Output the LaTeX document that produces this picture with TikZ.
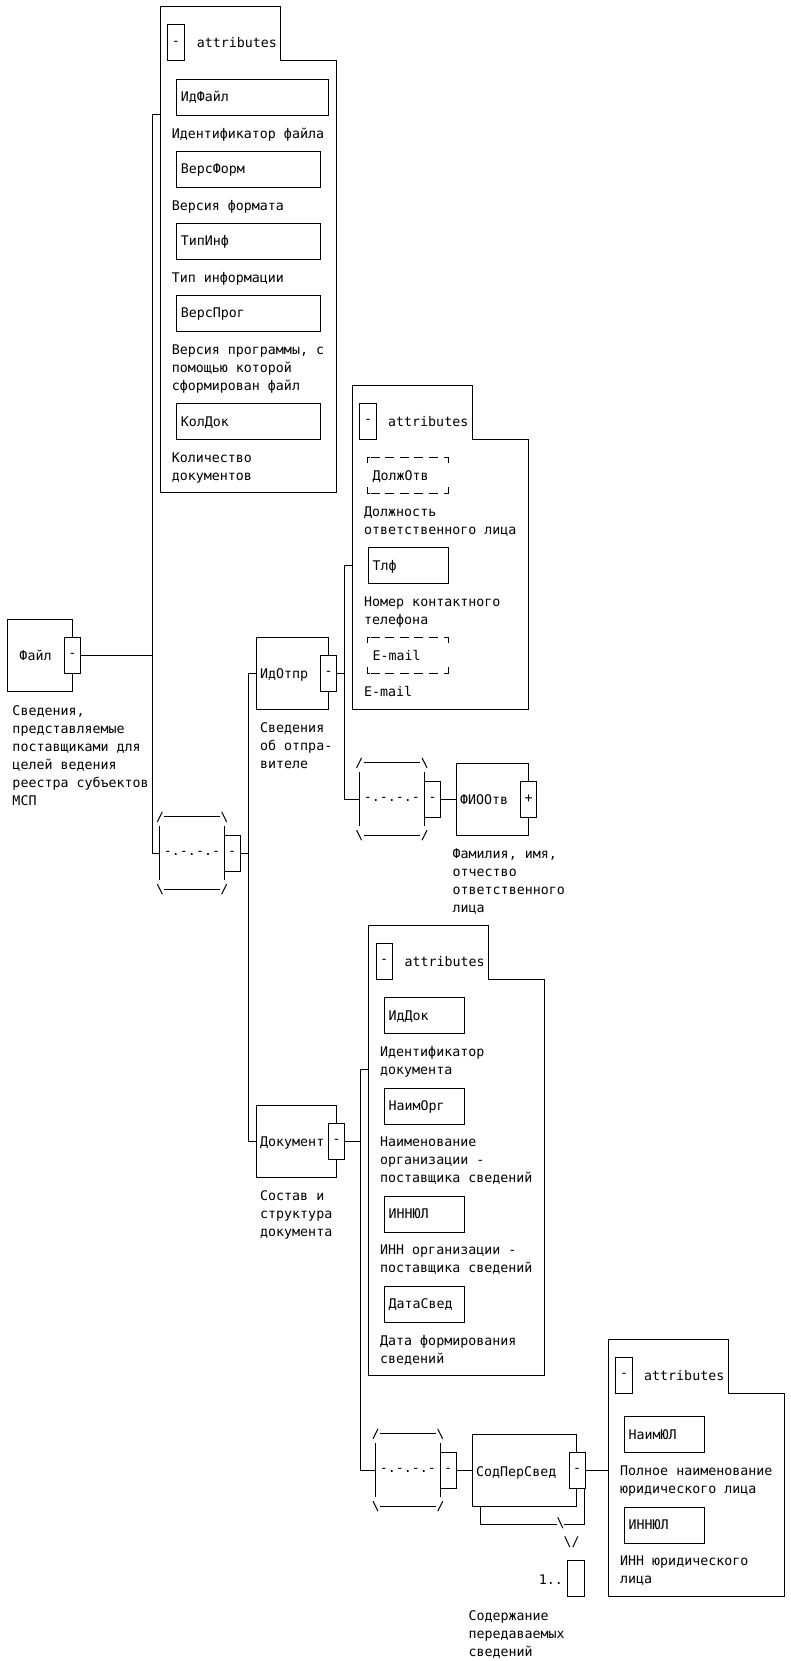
\documentclass[tikz,border=0pt]{standalone}
\usepackage{fontspec}
\newfontfamily\mono{DejaVu Sans Mono}
\newcommand\st{\rule{0pt}{13pt}}
\tikzset{
  every node/.style={font=\mono\fontsize{13.3}{18}\selectfont, text=black},
  ln/.style={line width=1pt, black},
  elbox/.style={draw, line width=1pt, minimum height=72pt, inner sep=0pt},
  sq/.style={draw, fill=white, line width=1pt, minimum width=16pt, minimum height=36pt, inner sep=0pt},
  nm/.style={anchor=base west, inner sep=0pt},
  desc/.style={anchor=north west, inner sep=0pt, align=left},
  attbox/.style={draw, line width=1pt, minimum height=36pt, inner sep=0pt, anchor=north west},
  dbox/.style={minimum height=36pt, minimum width=80.6pt, inner sep=0pt, anchor=north west},
  comp/.style={minimum height=72pt, inner sep=0pt},
}
\newcommand\compo[1]{%
  \draw[ln] ([yshift=9.5pt]#1.south west) -- ([yshift=-9.5pt]#1.north west);
  \draw[ln] ([yshift=9.5pt]#1.south east) -- ([yshift=-9.5pt]#1.north east);
  \draw[ln] ([xshift=4.5pt]#1.north west) -- ([xshift=-4.5pt]#1.north east);
  \draw[ln] ([xshift=4.5pt]#1.south west) -- ([xshift=-4.5pt]#1.south east);
  \draw[ln] ([shift={(-2.5pt,-5pt)}]#1.north west) -- ([shift={(2.5pt,5pt)}]#1.north west);
  \draw[ln] ([shift={(-2.5pt,5pt)}]#1.north east) -- ([shift={(2.5pt,-5pt)}]#1.north east);
  \draw[ln] ([shift={(-2.5pt,5pt)}]#1.south west) -- ([shift={(2.5pt,-5pt)}]#1.south west);
  \draw[ln] ([shift={(-2.5pt,-5pt)}]#1.south east) -- ([shift={(2.5pt,5pt)}]#1.south east);
  \node (#1sym) at (#1.center) {-.-.-.-};
  \node[sq] (#1sq) at ([xshift=8pt]#1.east) {-};
}
\newcommand\dashedbox[1]{%
  \draw[ln] ([yshift=-6pt]#1.north west) -- (#1.north west) -- ([xshift=2.3pt]#1.north west);
  \draw[ln] ([yshift=-6pt]#1.north east) -- (#1.north east) -- ([xshift=-4.3pt]#1.north east);
  \draw[ln] ([yshift=6pt]#1.south west) -- (#1.south west) -- ([xshift=2.3pt]#1.south west);
  \draw[ln] ([yshift=6pt]#1.south east) -- (#1.south east) -- ([xshift=-4.3pt]#1.south east);
  \draw[ln, dash pattern=on 9pt off 5.4pt] ([xshift=3.3pt]#1.north west) -- ([xshift=-10.6pt]#1.north east);
  \draw[ln, dash pattern=on 9pt off 5.4pt] ([xshift=3.3pt]#1.south west) -- ([xshift=-10.6pt]#1.south east);
}
\begin{document}
\begin{tikzpicture}[x=1pt, y=-1pt]
\useasboundingbox (0,0) rectangle (791,1661);

% ---------- attribute group 1 (Файл) ----------
\draw[ln] (160,7) -- (280,7) -- (280,61) -- (336,61) -- (336,492) -- (160,492) -- cycle;
\node[sq, minimum width=16.6pt] (a1sq) at (176,43) {-};
\node[nm] (a1t) at (196.7,48) {attributes};
\node[attbox, minimum width=152pt] (idfajl) at (176,79) {};
\node[nm] at (180.7,102) {ИдФайл};
\node[desc] at (171.7,125.3) {\st Идентификатор файла};
\node[attbox, minimum width=144pt] (versform) at (176,151) {};
\node[nm] at (180.7,174) {ВерсФорм};
\node[desc] at (171.7,197.5) {\st Версия формата};
\node[attbox, minimum width=144pt] (tipinf) at (176,223) {};
\node[nm] at (180.7,246) {ТипИнф};
\node[desc] at (171.7,269.5) {\st Тип информации};
\node[attbox, minimum width=144pt] (versprog) at (176,295) {};
\node[nm] at (180.7,318) {ВерсПрог};
\node[desc] at (171.7,341.5) {\st Версия программы, с\\помощью которой\\сформирован файл};
\node[attbox, minimum width=144pt] (koldok) at (176,403) {};
\node[nm] at (180.7,426) {КолДок};
\node[desc] at (171.7,449.5) {\st Количество\\документов};
\coordinate (a1stub) at (160,115);

% ---------- Файл ----------
\node[elbox, minimum width=64.5pt] (fajl) at (39.75,655) {};
\node[sq] (fajlsq) at (fajl.east) {-};
\node[nm] at (19.3,660.7) {Файл};
\node[desc] at (12.3,702) {\st Сведения,\\представляемые\\поставщиками для\\целей ведения\\реестра субъектов\\МСП};

% ---------- choice ----------
\node[comp, minimum width=64pt] (choice) at (192,853) {};
\compo{choice}

% bus 1
\coordinate (bus1) at (152,115);
\draw[ln] (a1stub) -- (bus1) -- (choice.west -| bus1) -- (choice.west);
\draw[ln] (fajlsq.east) -- (fajlsq.east -| bus1);

% ---------- ИдОтпр ----------
\node[elbox, minimum width=72pt] (idotpr) at (292,673) {};
\node[sq] (idotprsq) at (idotpr.east) {-};
\node[nm] at (260,678) {ИдОтпр};
\node[desc] at (260,719.7) {\st Сведения\\об отпра-\\вителе};

% ---------- Документ ----------
\node[elbox, minimum width=80pt] (dokument) at (296,1141) {};
\node[sq] (dokumentsq) at (dokument.east) {-};
\node[nm] at (260,1146) {Документ};
\node[desc] at (260,1187.7) {\st Состав и\\структура\\документа};

% bus 2
\coordinate (bus2) at (248,673);
\draw[ln] (idotpr.west) -- (bus2) -- (dokument.west -| bus2) -- (dokument.west);
\draw[ln] (choicesq.east) -- (choicesq.east -| bus2);

% ---------- attribute group 2 (ИдОтпр) ----------
\draw[ln] (352,385) -- (472,385) -- (472,439) -- (528,439) -- (528,709) -- (352,709) -- cycle;
\node[sq, minimum width=16.6pt] (a2sq) at (368,421) {-};
\node[nm] at (388,426) {attributes};
\node[dbox] (dolzh) at (367.7,457) {};
\dashedbox{dolzh}
\node[nm] at (372.5,480) {ДолжОтв};
\node[desc] at (364,503.5) {\st Должность\\ответственного лица};
\node[attbox, minimum width=80.6pt] (tlf) at (367.7,547) {};
\node[nm] at (372.5,570) {Тлф};
\node[desc] at (364,593) {\st Номер контактного\\телефона};
\node[dbox] (email) at (367.7,637) {};
\dashedbox{email}
\node[nm] at (372.5,660) {E-mail};
\node[desc] at (364,683) {\st E-mail};
\coordinate (a2stub) at (352,565);

% ---------- sequence 1 ----------
\node[comp, minimum width=65pt] (seq1) at (391.8,799) {};
\compo{seq1}

% bus 3
\coordinate (bus3) at (344,565);
\draw[ln] (a2stub) -- (bus3) -- (seq1.west -| bus3) -- (seq1.west);
\draw[ln] (idotprsq.east) -- (idotprsq.east -| bus3);

% ---------- ФИООтв ----------
\node[elbox, minimum width=72pt] (fiootv) at (492,799) {};
\node[sq] (fiootvsq) at (fiootv.east) {+};
\node[nm] at (460,804) {ФИООтв};
\node[desc] at (452.5,845.3) {\st Фамилия, имя,\\отчество\\ответственного\\лица};
\draw[ln] (seq1sq.east) -- (fiootv.west);

% ---------- attribute group 3 (Документ) ----------
\draw[ln] (368,925.7) -- (488,925.7) -- (488,979) -- (544,979) -- (544,1375) -- (368,1375) -- cycle;
\node[sq, minimum width=16.4pt] (a3sq) at (384.2,961) {-};
\node[nm] at (404.3,966) {attributes};
\node[attbox, minimum width=80.3pt] (iddok) at (384,997.3) {};
\node[nm] at (388.3,1020.3) {ИдДок};
\node[desc] at (380,1043.7) {\st Идентификатор\\документа};
\node[attbox, minimum width=80.3pt] (naimorg) at (384,1087.7) {};
\node[nm] at (388.3,1110.5) {НаимОрг};
\node[desc] at (380,1133.7) {\st Наименование\\организации -\\поставщика сведений};
\node[attbox, minimum width=80.3pt] (innul) at (384,1195.7) {};
\node[nm] at (388.3,1218.5) {ИННЮЛ};
\node[desc] at (380,1241.3) {\st ИНН организации -\\поставщика сведений};
\node[attbox, minimum width=80.3pt] (datasved) at (384,1285.7) {};
\node[nm] at (388.3,1308.7) {ДатаСвед};
\node[desc] at (380,1332) {\st Дата формирования\\сведений};
\coordinate (a3stub) at (368,1069.3);

% ---------- sequence 2 ----------
\node[comp, minimum width=64.3pt] (seq2) at (407.85,1470) {};
\compo{seq2}

% bus 4
\coordinate (bus4) at (360.7,1069.3);
\draw[ln] (a3stub) -- (bus4) -- (seq2.west -| bus4) -- (seq2.west);
\draw[ln] (dokumentsq.east) -- (dokumentsq.east -| bus4);

% ---------- СодПерСвед ----------
\draw[ln] (480,1506) -- (480,1524) -- (557,1524);
\draw[ln] (563.5,1524) -- (584,1524) -- (584,1488);
\node[elbox, fill=white, minimum width=104.7pt] (sodper) at (524.35,1470) {};
\node[sq] (sodpersq) at (sodper.east) {-};
\node[nm] at (476,1476) {СодПерСвед};
\draw[ln] (seq2sq.east) -- (sodper.west);
\node[inner sep=0pt] (bs1) at (560.5,1523) {\textbackslash};
\node[inner sep=0pt] (bs2) at (571.5,1542.5) {\textbackslash/};
\node[inner sep=0pt, anchor=base east] (card) at (563,1584) {1..};
\node[draw, line width=1pt, minimum width=16.3pt, minimum height=36pt, inner sep=0pt] (inf) at (575.85,1578) {};
\node[desc] at (468.3,1607) {\st Содержание\\передаваемых\\сведений};

% ---------- attribute group 4 (СодПерСвед) ----------
\draw[ln] (608,1339.3) -- (728,1339.3) -- (728,1393.3) -- (784,1393.3) -- (784,1596) -- (608,1596) -- cycle;
\node[sq, minimum width=16.6pt] (a4sq) at (624,1375.3) {-};
\node[nm] at (644,1380.3) {attributes};
\node[attbox, minimum width=80.3pt] (naimul) at (624,1416) {};
\node[nm] at (628.3,1439.2) {НаимЮЛ};
\node[desc] at (620,1462.7) {\st Полное наименование\\юридического лица};
\node[attbox, minimum width=80.3pt] (innul2) at (624,1506.7) {};
\node[nm] at (628.3,1529.5) {ИННЮЛ};
\node[desc] at (620,1552.7) {\st ИНН юридического\\лица};
\coordinate (a4stub) at (608,1470);
\draw[ln] (sodpersq.east) -- (a4stub);
\end{tikzpicture}
\end{document}
